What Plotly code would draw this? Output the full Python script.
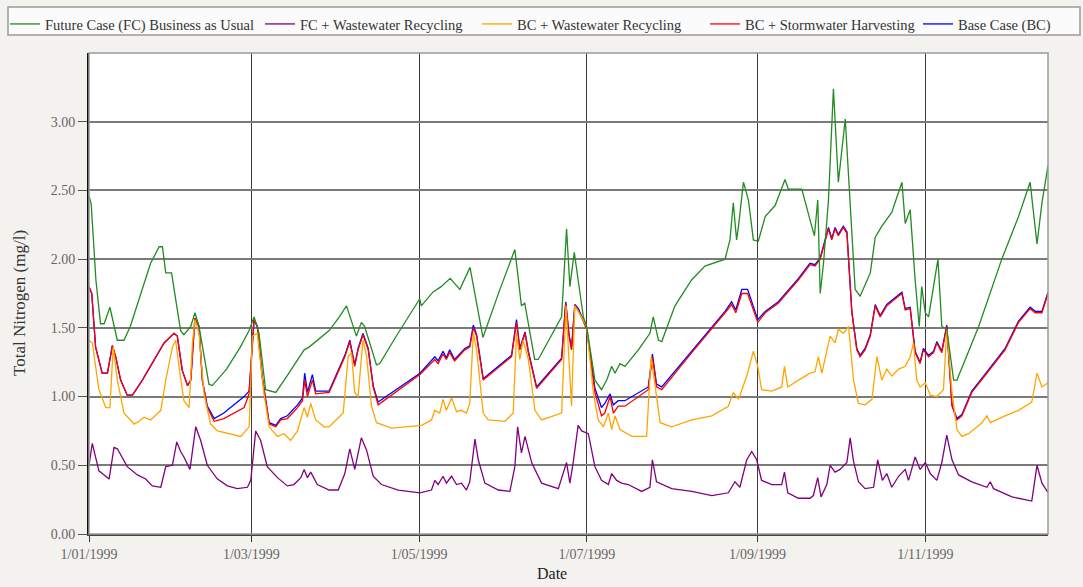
import pandas as pd
import plotly.graph_objects as go

# Day offsets from 1 Jan 1999 and total nitrogen (mg/l) for each scenario
fc_bau_day = [0, 0.8, 2.5, 4.2, 5.5, 7.6, 10.3, 12.7, 15, 18, 22.4, 25.5, 26.7, 27.9, 30, 33.3, 34.5, 37, 38.5, 40,
              43.6, 44.8, 50, 55, 58.2, 60, 61.8, 64.2, 67.9, 72, 75, 78.2, 80, 83, 87.3, 91, 93.6, 97.2, 99, 100.2,
              104.5, 105.7, 112, 120.2, 120.8, 125, 128, 131.3, 134.8, 138.5, 143.2, 149, 154.8, 157.2, 158.4, 162,
              163.3, 171.8, 173.6, 174.8, 176.4, 178.5, 179.7, 180.9, 183.9, 186.3, 188.2, 190, 191.2, 193, 194.8,
              199.7, 203.9, 205.1, 207, 208.2, 213, 219.1, 223.9, 231.2, 233, 234.2, 235.4, 236.1, 237.9, 239.7,
              241.5, 243.3, 245.8, 249.4, 253, 254.2, 259.1, 262.7, 263.7, 264.9, 265.8, 267, 268.8, 270.6, 272.4,
              274.9, 276.7, 278.5, 280.3, 284, 285.8, 288.2, 291.8, 295.5, 296.7, 298.5, 300.3, 301.8, 302.7, 304,
              305.2, 308.6, 310, 311.8, 314.3, 315.5, 323.4, 331.8, 337.9, 342.1, 344.6, 346.4, 348.6]
fc_bau_tn = [2.46, 2.40, 1.85, 1.53, 1.53, 1.65, 1.41, 1.41, 1.51, 1.70, 1.97, 2.09, 2.09, 1.90, 1.90, 1.48, 1.45,
             1.51, 1.61, 1.51, 1.09, 1.08, 1.20, 1.36, 1.48, 1.58, 1.46, 1.05, 1.03, 1.15, 1.24, 1.34, 1.36, 1.41,
             1.48, 1.58, 1.66, 1.44, 1.54, 1.51, 1.23, 1.24, 1.45, 1.71, 1.66, 1.76, 1.80, 1.86, 1.78, 1.94, 1.43,
             1.76, 2.07, 1.66, 1.68, 1.27, 1.27, 1.58, 2.22, 1.80, 2.05, 1.75, 1.58, 1.51, 1.12, 1.05, 1.12, 1.22,
             1.17, 1.24, 1.22, 1.34, 1.46, 1.58, 1.41, 1.40, 1.66, 1.85, 1.95, 2.00, 2.14, 2.41, 2.14, 2.24, 2.56,
             2.43, 2.14, 2.13, 2.31, 2.39, 2.58, 2.51, 2.51, 2.24, 2.17, 2.43, 1.75, 1.97, 2.43, 3.24, 2.56, 3.02,
             2.41, 1.78, 1.73, 1.90, 2.16, 2.24, 2.34, 2.56, 2.26, 2.36, 1.85, 1.51, 1.80, 1.61, 1.58, 2.00, 1.51,
             1.49, 1.12, 1.12, 1.51, 2.00, 2.31, 2.56, 2.11, 2.41, 2.68]

fc_wr_day = [0, 1.2, 3.6, 7.3, 9.1, 10.3, 13.9, 17.6, 20.6, 23, 26.1, 27.9, 30.3, 31.9, 33.3, 34.5, 36.7, 38.8, 40.6,
             43, 46.7, 50.3, 53.9, 57.6, 58.8, 60.6, 62.4, 64.8, 68.5, 72.1, 74.5, 77, 78.2, 79.4, 80.6, 83, 87.3,
             90.6, 93, 94.8, 96.6, 99, 100.9, 103.3, 106.3, 112.4, 120.3, 124.5, 125.7, 126.9, 128.7, 129.9, 131.8,
             133.6, 135.4, 137.2, 138.4, 140.3, 141.5, 143.9, 148.8, 153, 154.8, 155.8, 157.2, 158.5, 160.9, 164.5,
             170.6, 173.6, 174.8, 176, 177.8, 179.1, 181.5, 183.9, 186.3, 188.8, 190, 191.8, 193.6, 196, 200.9,
             203.9, 204.8, 206.3, 211.8, 219.1, 226.4, 232.4, 234.8, 236.6, 239.1, 240.9, 242.7, 244.5, 248.2,
             251.8, 252.8, 254, 257.9, 262.1, 263.3, 264.9, 266.1, 268.2, 269.4, 271.2, 273, 275.5, 276.7, 277.9,
             279.7, 282.1, 285.2, 286.7, 288.4, 290, 291.8, 294.3, 296.7, 297.9, 300.3, 302.1, 304, 305.8, 308.2,
             310, 311.8, 313.7, 316.1, 320.9, 326.4, 327.6, 328.8, 335.5, 342.7, 344.6, 346.4, 348.6]
fc_wr_tn = [0.50, 0.66, 0.46, 0.40, 0.63, 0.62, 0.49, 0.43, 0.40, 0.35, 0.34, 0.49, 0.50, 0.67, 0.60, 0.56, 0.47,
            0.78, 0.68, 0.50, 0.40, 0.35, 0.33, 0.34, 0.39, 0.75, 0.68, 0.49, 0.41, 0.35, 0.36, 0.41, 0.47, 0.41,
            0.45, 0.36, 0.32, 0.32, 0.44, 0.62, 0.47, 0.70, 0.61, 0.42, 0.36, 0.32, 0.30, 0.32, 0.39, 0.36, 0.42,
            0.37, 0.42, 0.36, 0.37, 0.32, 0.38, 0.69, 0.54, 0.37, 0.32, 0.31, 0.49, 0.78, 0.59, 0.71, 0.52, 0.37,
            0.33, 0.52, 0.37, 0.52, 0.79, 0.75, 0.73, 0.49, 0.39, 0.36, 0.44, 0.39, 0.37, 0.36, 0.31, 0.34, 0.54,
            0.38, 0.33, 0.31, 0.28, 0.30, 0.38, 0.34, 0.54, 0.60, 0.54, 0.39, 0.36, 0.36, 0.45, 0.30, 0.26, 0.26,
            0.28, 0.41, 0.27, 0.36, 0.50, 0.45, 0.47, 0.52, 0.70, 0.53, 0.38, 0.33, 0.34, 0.54, 0.39, 0.44, 0.34,
            0.42, 0.47, 0.39, 0.56, 0.47, 0.52, 0.44, 0.39, 0.52, 0.72, 0.54, 0.43, 0.38, 0.34, 0.38, 0.33, 0.27,
            0.24, 0.50, 0.37, 0.30]

bc_wr_day = [0, 1.2, 3.6, 6.1, 7.6, 8.8, 10.3, 12.7, 16.4, 18.2, 20, 22.4, 26.1, 27.9, 30.3, 31.5, 32.7, 34.5, 36.4,
             37.6, 38.5, 40, 41.8, 44.2, 46.7, 51.5, 55.2, 58.2, 59.4, 61.2, 63.6, 65.5, 68.5, 70.9, 73.3, 75.8,
             78.2, 79.4, 80.6, 82.4, 85.5, 87.3, 92.4, 94.2, 95.4, 96.6, 97.8, 99.6, 100.9, 102.7, 104.5, 110, 116,
             120.9, 124.5, 125.7, 127.5, 128.7, 129.9, 131.8, 133.6, 135.4, 137.2, 138.4, 139.7, 140.9, 143.3,
             145.1, 151.2, 154.2, 155.4, 156.6, 157.8, 159.7, 162.1, 164.5, 171.8, 173.4, 175.4, 176.6, 179, 180.9,
             183.3, 185.1, 187, 188.8, 190, 191.2, 193, 197.3, 202.7, 204.3, 205.5, 207.6, 211.8, 219.1, 226.4,
             232.4, 234.2, 236.1, 239.1, 241.5, 243.1, 244.5, 248.2, 251.8, 252.8, 254, 257.9, 262.1, 263.9, 265.1,
             266.4, 268.2, 269.4, 271.2, 272.4, 274.2, 276.1, 277.9, 279.7, 282.1, 284.6, 286.4, 288.2, 290, 291.8,
             294.3, 296.7, 298.5, 299.7, 300.9, 302.1, 304, 305.8, 308.2, 310.6, 311.8, 313.7, 315.5, 317.3, 319.7,
             324.6, 326.4, 327.6, 333, 337.9, 342.7, 344.6, 346.4, 348.6]
bc_wr_tn = [1.41, 1.39, 1.05, 0.92, 0.92, 1.36, 1.12, 0.88, 0.80, 0.82, 0.85, 0.83, 0.90, 1.12, 1.36, 1.41, 1.22,
            0.97, 0.92, 1.39, 1.56, 1.46, 1.02, 0.80, 0.75, 0.73, 0.71, 0.78, 1.44, 1.46, 1.02, 0.78, 0.71, 0.73,
            0.68, 0.75, 0.92, 0.85, 0.95, 0.83, 0.78, 0.78, 0.88, 1.29, 1.32, 1.03, 1.00, 1.41, 1.29, 0.93, 0.81,
            0.77, 0.78, 0.79, 0.83, 0.90, 0.88, 0.98, 0.90, 0.99, 0.89, 0.90, 0.88, 0.95, 1.46, 1.34, 0.88, 0.83,
            0.82, 0.88, 1.46, 1.27, 1.41, 1.27, 0.90, 0.83, 0.88, 1.66, 0.93, 1.66, 1.58, 1.51, 1.03, 0.83, 0.78,
            0.88, 0.76, 0.86, 0.76, 0.71, 0.71, 1.29, 1.12, 0.81, 0.78, 0.83, 0.86, 0.93, 1.03, 0.98, 1.15, 1.33,
            1.22, 1.05, 1.04, 1.07, 1.22, 1.07, 1.12, 1.17, 1.18, 1.29, 1.17, 1.32, 1.44, 1.39, 1.49, 1.46, 1.51,
            1.12, 0.95, 0.94, 0.98, 1.29, 1.12, 1.20, 1.15, 1.20, 1.22, 1.29, 1.39, 1.12, 1.07, 1.10, 1.01, 1.00,
            1.05, 1.49, 1.03, 0.76, 0.71, 0.73, 0.81, 0.86, 0.81, 0.86, 0.90, 0.96, 1.17, 1.07, 1.10]

bc_sh_day = [0, 1, 2.4, 4.8, 6.7, 8.5, 9.7, 11.5, 13.9, 15.8, 19.4, 24.8, 27.3, 30.9, 32.1, 33.9, 35.8, 37, 38.5, 40,
             41.2, 43, 45.5, 49, 56.4, 58.2, 60, 61.2, 63, 65.5, 67.9, 69.7, 72.1, 75.8, 77.6, 78.4, 79.4, 81.2,
             82.4, 87.3, 93, 94.8, 96.6, 97.8, 99.6, 101.5, 103.3, 105.1, 120.3, 125.7, 126.9, 128.7, 129.9, 131.1,
             132.9, 136.6, 138.4, 139.7, 140.9, 143.3, 153.6, 155.4, 156.6, 158.5, 159.7, 162.7, 171.8, 173.3,
             174.5, 175.4, 176.6, 177.9, 179.7, 180.9, 183.9, 186.3, 187.5, 189.4, 190.6, 192.4, 194.8, 203.3,
             204.8, 206.3, 208.2, 219.1, 231.2, 233.6, 235.1, 237.3, 239.4, 243.1, 245.8, 250.6, 257.9, 262.1,
             263.9, 265.8, 268.8, 270, 271.2, 272.4, 274.2, 275.5, 277.3, 279.1, 280.3, 282.1, 284, 285.8, 287.6,
             290, 293, 295.5, 296.7, 298.5, 300.3, 302.1, 303.3, 305.2, 307, 308.2, 310, 311.8, 313.7, 315.5, 317.3,
             320.9, 326.4, 333, 337.9, 342.1, 344, 346.4, 348.6]
bc_sh_tn = [1.80, 1.75, 1.36, 1.17, 1.17, 1.37, 1.29, 1.12, 1.01, 1.01, 1.12, 1.31, 1.39, 1.46, 1.44, 1.19, 1.08,
            1.12, 1.57, 1.51, 1.12, 0.92, 0.82, 0.84, 0.92, 1.02, 1.56, 1.51, 1.14, 0.80, 0.78, 0.83, 0.84, 0.92,
            0.97, 1.12, 1.00, 1.12, 1.02, 1.03, 1.29, 1.40, 1.22, 1.34, 1.45, 1.34, 1.07, 0.94, 1.16, 1.27, 1.24,
            1.31, 1.27, 1.32, 1.26, 1.34, 1.36, 1.50, 1.44, 1.12, 1.29, 1.54, 1.34, 1.46, 1.32, 1.06, 1.27, 1.68,
            1.44, 1.34, 1.66, 1.63, 1.54, 1.49, 1.03, 0.86, 0.88, 1.00, 0.88, 0.93, 0.93, 1.05, 1.29, 1.07, 1.05,
            1.32, 1.61, 1.67, 1.61, 1.75, 1.75, 1.54, 1.61, 1.68, 1.85, 1.96, 1.95, 2.00, 2.22, 2.14, 2.22, 2.17,
            2.23, 2.19, 1.61, 1.34, 1.29, 1.34, 1.44, 1.66, 1.58, 1.66, 1.71, 1.75, 1.63, 1.64, 1.32, 1.24, 1.34,
            1.29, 1.32, 1.39, 1.32, 1.51, 0.93, 0.83, 0.86, 1.03, 1.17, 1.34, 1.54, 1.64, 1.61, 1.61, 1.75]

bc_day = [0, 1, 2.4, 4.8, 6.7, 8.5, 9.7, 11.5, 13.9, 15.8, 19.4, 24.8, 27.3, 30.9, 32.1, 33.9, 35.8, 37, 38.5, 40,
          41.2, 43, 45.5, 49, 56.4, 58.2, 60, 61.2, 63, 65.5, 67.9, 69.7, 72.1, 75.8, 77.6, 78.4, 79.4, 81.2, 82.4,
          87.3, 93, 94.8, 96.6, 97.8, 99.6, 101.5, 103.3, 105.1, 120.3, 125.7, 126.9, 128.7, 129.9, 131.1, 132.9,
          136.6, 138.4, 139.7, 140.9, 143.3, 153.6, 155.4, 156.6, 158.5, 159.7, 162.7, 171.8, 173.3, 174.5, 175.4,
          176.6, 177.9, 179.7, 180.9, 183.9, 186.3, 187.5, 189.4, 190.6, 192.4, 194.8, 203.3, 204.8, 206.3, 208.2,
          219.1, 231.2, 233.6, 235.1, 237.3, 239.4, 243.1, 245.8, 250.6, 257.9, 262.1, 263.9, 265.8, 268.8, 270,
          271.2, 272.4, 274.2, 275.5, 277.3, 279.1, 280.3, 282.1, 284, 285.8, 287.6, 290, 293, 295.5, 296.7, 298.5,
          300.3, 302.1, 303.3, 305.2, 307, 308.2, 310, 311.8, 313.7, 315.5, 317.3, 320.9, 326.4, 333, 337.9, 342.1,
          344, 346.4, 348.6]
bc_tn = [1.80, 1.75, 1.36, 1.17, 1.17, 1.37, 1.29, 1.12, 1.01, 1.01, 1.12, 1.31, 1.39, 1.46, 1.44, 1.19, 1.08, 1.12,
         1.57, 1.51, 1.12, 0.93, 0.84, 0.88, 1.00, 1.04, 1.56, 1.51, 1.14, 0.81, 0.79, 0.84, 0.86, 0.94, 0.99, 1.17,
         1.03, 1.16, 1.04, 1.04, 1.30, 1.41, 1.23, 1.35, 1.46, 1.35, 1.08, 0.96, 1.17, 1.29, 1.26, 1.33, 1.28, 1.34,
         1.27, 1.35, 1.37, 1.52, 1.45, 1.13, 1.30, 1.56, 1.35, 1.47, 1.33, 1.07, 1.28, 1.69, 1.45, 1.35, 1.67, 1.64,
         1.55, 1.50, 1.06, 0.92, 0.95, 1.02, 0.94, 0.97, 0.97, 1.07, 1.31, 1.09, 1.07, 1.33, 1.62, 1.69, 1.63, 1.78,
         1.78, 1.56, 1.62, 1.69, 1.86, 1.97, 1.96, 2.01, 2.23, 2.15, 2.23, 2.18, 2.24, 2.20, 1.62, 1.35, 1.30, 1.35,
         1.45, 1.67, 1.59, 1.67, 1.72, 1.76, 1.64, 1.65, 1.33, 1.25, 1.35, 1.30, 1.33, 1.40, 1.33, 1.52, 0.94, 0.84,
         0.87, 1.04, 1.18, 1.35, 1.55, 1.65, 1.62, 1.62, 1.76]

y_ticks = [0.0, 0.5, 1.0, 1.5, 2.0, 2.5, 3.0]

START = pd.Timestamp("1999-01-01")


def to_dates(days):
    return START + pd.to_timedelta(days, unit="D")


SERIF = "Liberation Serif"

W, H = 1083, 587
L, R, T, B = 89, 35, 53, 53
pw, ph = W - L - R, H - T - B


def px_x(p):
    return (p - L) / pw


def px_y(p):
    return (H - B - p) / ph


# (name, days, values, colour, legend id, legend left edge in px) -- in drawing order
series = [
    ("Base Case (BC)", bc_day, bc_tn, "#0000ff", "legend5", 918),
    ("BC + Stormwater Harvesting", bc_sh_day, bc_sh_tn, "#ff0000", "legend4", 705),
    ("BC + Wastewater Recycling", bc_wr_day, bc_wr_tn, "#ffa500", "legend3", 477),
    ("FC + Wastewater Recycling", fc_wr_day, fc_wr_tn, "#800080", "legend2", 260),
    ("Future Case (FC) Business as Usual", fc_bau_day, fc_bau_tn, "#228b22", "legend", 5),
]

fig = go.Figure()
legend_layout = {}
for name, d, v, col, leg, left in series:
    fig.add_trace(go.Scatter(
        x=to_dates(d), y=v, mode="lines", name=name, legend=leg,
        line=dict(color=col, width=1.3),
    ))
    legend_layout[leg] = dict(
        orientation="h", x=px_x(left), y=px_y(8), xanchor="left", yanchor="top",
        bgcolor="rgba(0,0,0,0)", borderwidth=0,
        font=dict(family=SERIF, size=14.5, color="#333"),
    )

fig.update_layout(
    width=W, height=H,
    margin=dict(l=L, r=R, t=T, b=B, autoexpand=False),
    paper_bgcolor="#f4f2ee",
    plot_bgcolor="#ffffff",
    font=dict(family=SERIF, size=14, color="#444"),
    showlegend=True,
    shapes=[
        dict(type="rect", xref="paper", yref="paper",
             x0=px_x(8), x1=px_x(1080), y0=px_y(35), y1=px_y(7),
             fillcolor="#fbfbfb", line=dict(color="#9a9a9a", width=1.5), layer="below"),
        dict(type="rect", xref="paper", yref="paper", x0=0, x1=1, y0=0, y1=1,
             line=dict(color="#9a9a9a", width=1.5), layer="above"),
    ],
    annotations=[
        dict(text="Total Nitrogen (mg/l)", textangle=-90, showarrow=False,
             xref="paper", yref="paper", x=px_x(19), y=px_y(303),
             xanchor="center", yanchor="middle",
             font=dict(family=SERIF, size=17, color="#333")),
        dict(text="Date", showarrow=False,
             xref="paper", yref="paper", x=px_x(552), y=px_y(573),
             xanchor="center", yanchor="middle",
             font=dict(family=SERIF, size=16, color="#222")),
    ],
    xaxis=dict(
        type="date",
        range=[START, to_dates(348.6)],
        tick0="1999-01-01", dtick="M2", tickformat="%-d/%m/%Y",
        ticks="outside", ticklen=6, tickcolor="#333", tickwidth=1,
        showline=True, linecolor="#444", linewidth=2,
        showgrid=True, gridcolor="#3a3a3a", gridwidth=1,
        tickfont=dict(family=SERIF, size=14, color="#666"),
    ),
    yaxis=dict(
        range=[0, 3.5], tickvals=y_ticks, tickformat=".2f",
        ticks="outside", ticklen=9, tickcolor="#555", tickwidth=1,
        showline=True, linecolor="#111", linewidth=2,
        showgrid=True, gridcolor="#7a7a7a", gridwidth=2, zeroline=False,
        tickfont=dict(family=SERIF, size=14, color="#666"),
    ),
    **legend_layout,
)

fig.write_html("out.html")
